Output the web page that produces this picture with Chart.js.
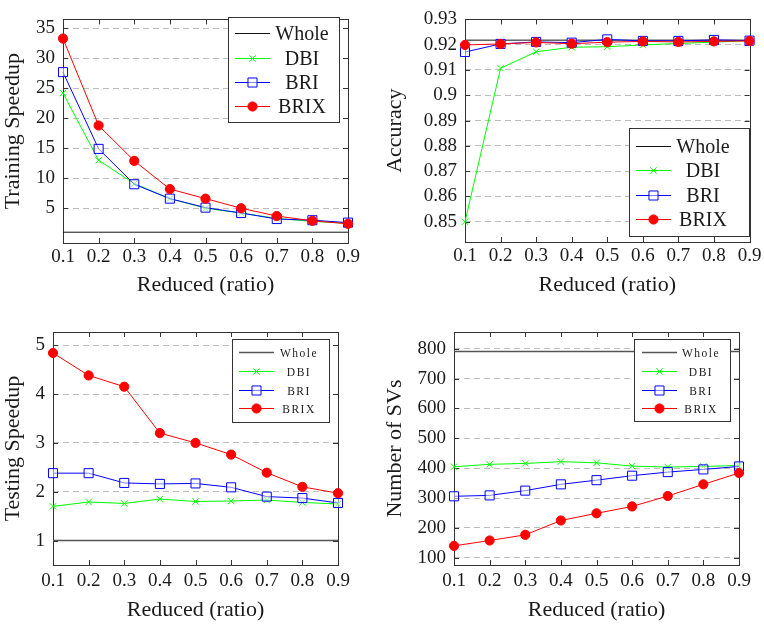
<!DOCTYPE html>
<html>
<head>
<meta charset="utf-8">
<script src="https://cdn.jsdelivr.net/npm/chart.js@4.4.0/dist/chart.umd.min.js"></script>
<style>
body { margin: 0; background: #fff; }
canvas { position: absolute; }
</style>
</head>
<body>
<canvas id="train" width="382" height="300" style="left:0;top:0"></canvas>
<canvas id="acc" width="382" height="300" style="left:382px;top:0"></canvas>
<canvas id="test" width="382" height="314" style="left:0;top:310px"></canvas>
<canvas id="svs" width="382" height="314" style="left:382px;top:310px"></canvas>
<script>
// x categories shared by all four panels
const reduced = ['0.1', '0.2', '0.3', '0.4', '0.5', '0.6', '0.7', '0.8', '0.9'];

// training speedup
const trainWhole = [1, 1, 1, 1, 1, 1, 1, 1, 1];
const trainDBI = [24.2, 13.0, 9.1, 6.6, 5.0, 4.2, 3.3, 2.8, 2.5];
const trainBRI = [27.7, 14.9, 9.0, 6.6, 5.1, 4.2, 3.2, 3.0, 2.6];
const trainBRIX = [33.3, 18.8, 12.9, 8.2, 6.6, 5.0, 3.7, 2.9, 2.4];
const trainTicks = [5, 10, 15, 20, 25, 30, 35];

// accuracy
const accWhole = [0.9218, 0.9218, 0.9218, 0.9218, 0.9218, 0.9218, 0.9218, 0.9218, 0.9218];
const accDBI = [0.85, 0.9107, 0.9172, 0.919, 0.9192, 0.9199, 0.9205, 0.921, 0.9216];
const accBRI = [0.9171, 0.9203, 0.9211, 0.9208, 0.9221, 0.9215, 0.9215, 0.9219, 0.9216];
const accBRIX = [0.9199, 0.9203, 0.9209, 0.9204, 0.921, 0.9213, 0.9211, 0.9213, 0.9215];
const accTicks = [0.85, 0.86, 0.87, 0.88, 0.89, 0.9, 0.91, 0.92, 0.93];

// testing speedup
const testWhole = [1, 1, 1, 1, 1, 1, 1, 1, 1];
const testDBI = [1.70, 1.79, 1.76, 1.85, 1.80, 1.81, 1.83, 1.78, 1.75];
const testBRI = [2.38, 2.38, 2.18, 2.16, 2.17, 2.09, 1.90, 1.87, 1.77];
const testBRIX = [4.84, 4.38, 4.15, 3.20, 3.00, 2.76, 2.39, 2.10, 1.97];
const testTicks = [1, 2, 3, 4, 5];

// number of support vectors
const svWhole = [791, 791, 791, 791, 791, 791, 791, 791, 791];
const svDBI = [405, 413, 416, 422, 418, 407, 404, 406, 409];
const svBRI = [306, 309, 325, 346, 360, 375, 387, 396, 406];
const svBRIX = [140, 158, 177, 225, 249, 272, 307, 346, 384];
const svTicks = [100, 200, 300, 400, 500, 600, 700, 800];

const FONT = 'Liberation Serif';
const TEXT = '#1a1a1a';
const FRAME = '#333';

// frame around the plot plus inward tick marks
const framePlugin = {
    id: 'frame',
    beforeDatasetsDraw(chart) {
        const {ctx, chartArea: a, scales: {x, y}} = chart;
        ctx.save();
        ctx.strokeStyle = FRAME;
        ctx.lineWidth = 1;
        ctx.beginPath();
        x.ticks.forEach((t, i) => {
            const px = Math.round(x.getPixelForValue(i)) + 0.5;
            ctx.moveTo(px, a.bottom); ctx.lineTo(px, a.bottom - 5);
            ctx.moveTo(px, a.top); ctx.lineTo(px, a.top + 5);
        });
        y.ticks.forEach(t => {
            const py = Math.round(y.getPixelForValue(t.value)) + 0.5;
            ctx.moveTo(a.left, py); ctx.lineTo(a.left + 5, py);
            ctx.moveTo(a.right, py); ctx.lineTo(a.right - 5, py);
        });
        ctx.stroke();
        ctx.strokeRect(Math.round(a.left) + 0.5, Math.round(a.top) + 0.5,
            Math.round(a.right - a.left), Math.round(a.bottom - a.top));
        ctx.restore();
    }
};

function drawMarker(ctx, d, cx, cy) {
    const r = d.pointRadius;
    ctx.save();
    ctx.strokeStyle = d.borderColor;
    ctx.fillStyle = d.backgroundColor || 'transparent';
    ctx.lineWidth = 1;
    ctx.beginPath();
    if (d.pointStyle === 'circle') {
        ctx.arc(cx, cy, r, 0, Math.PI * 2);
        ctx.fill();
        ctx.stroke();
    } else if (d.pointStyle === 'rect') {
        const s = r * Math.SQRT1_2;
        ctx.rect(cx - s, cy - s, 2 * s, 2 * s);
        ctx.fill();
        ctx.stroke();
    } else if (d.pointStyle === 'crossRot') {
        const s = r * Math.SQRT1_2;
        ctx.moveTo(cx - s, cy - s); ctx.lineTo(cx + s, cy + s);
        ctx.moveTo(cx - s, cy + s); ctx.lineTo(cx + s, cy - s);
        ctx.stroke();
    }
    ctx.restore();
}

// legend box drawn inside the plot
const boxLegend = {
    id: 'boxLegend',
    afterDatasetsDraw(chart, args, o) {
        const ctx = chart.ctx;
        ctx.save();
        ctx.fillStyle = '#fff';
        ctx.strokeStyle = FRAME;
        ctx.lineWidth = 1;
        ctx.fillRect(o.left, o.top, o.width, o.height);
        ctx.strokeRect(o.left + 0.5, o.top + 0.5, o.width, o.height);
        ctx.font = o.size + 'px "' + FONT + '"';
        ctx.letterSpacing = o.spacing || '0px';
        ctx.textAlign = 'center';
        ctx.textBaseline = 'middle';
        chart.data.datasets.forEach((d, i) => {
            const yy = Math.round(o.top + o.first + i * o.step) + 0.5;
            ctx.strokeStyle = d.borderColor;
            ctx.lineWidth = d.borderWidth;
            ctx.beginPath();
            ctx.moveTo(o.lineX0, yy);
            ctx.lineTo(o.lineX1, yy);
            ctx.stroke();
            if (d.pointRadius > 0) drawMarker(ctx, d, (o.lineX0 + o.lineX1) / 2, yy);
            ctx.fillStyle = TEXT;
            ctx.fillText(d.label, o.textX, yy + 1);
        });
        ctx.restore();
    }
};

function series(whole, dbi, bri, brix, wholeColor, wholeWidth) {
    return [
        {label: 'Whole', data: whole, borderColor: wholeColor, borderWidth: wholeWidth, pointRadius: 0, order: 3},
        {label: 'DBI', data: dbi, borderColor: '#00ff00', borderWidth: 1, pointStyle: 'crossRot',
            pointRadius: 4.5, pointBorderWidth: 1, order: 2},
        {label: 'BRI', data: bri, borderColor: '#0000ff', backgroundColor: 'rgba(255,255,255,0.5)', borderWidth: 1,
            pointStyle: 'rect', pointRadius: 6.4, pointBorderWidth: 1, order: 1},
        {label: 'BRIX', data: brix, borderColor: '#ff0000', backgroundColor: '#ff0000', borderWidth: 1,
            pointStyle: 'circle', pointRadius: 4.6, pointBorderWidth: 1, order: 0},
    ];
}

function makeChart(id, datasets, yTitle, yMin, yMax, yTicks, lay, legend) {
    const tickFont = {family: FONT, size: 19};
    const titleFont = {family: FONT, size: 22};
    return new Chart(document.getElementById(id), {
        type: 'line',
        data: {labels: reduced, datasets: datasets.map(d => Object.assign({clip: false, tension: 0, fill: false}, d))},
        plugins: [framePlugin, boxLegend],
        options: {
            responsive: false,
            animation: false,
            events: [],
            layout: {padding: {top: lay.top, right: lay.right, left: 0, bottom: 0}},
            plugins: {legend: {display: false}, tooltip: {enabled: false}, boxLegend: legend},
            scales: {
                x: {
                    type: 'category',
                    offset: false,
                    grid: {display: false, drawTicks: false},
                    border: {display: false},
                    ticks: {color: TEXT, font: tickFont, padding: lay.xpad, maxRotation: 0, autoSkip: false},
                    title: {display: true, text: 'Reduced (ratio)', color: TEXT, font: titleFont, padding: {top: 0, bottom: lay.tpad}},
                    afterFit: s => { s.height = lay.xh; }
                },
                y: {
                    type: 'linear',
                    min: yMin,
                    max: yMax,
                    afterBuildTicks: s => { s.ticks = yTicks.map(v => ({value: v})); },
                    grid: {color: '#bdbdbd', drawTicks: false},
                    border: {display: false, dash: [6, 4]},
                    ticks: {color: TEXT, font: tickFont, padding: 8, callback: v => String(+v.toFixed(4))},
                    title: {display: true, text: yTitle, color: TEXT, font: titleFont, padding: {top: 0, bottom: 0}},
                    afterFit: s => { s.width = lay.yw; }
                }
            }
        }
    });
}

makeChart('train', series(trainWhole, trainDBI, trainBRI, trainBRIX, '#111', 1),
    'Training Speedup', -0.8, 36.5, trainTicks,
    {top: 9, right: 34, yw: 63, xh: 57, xpad: 2.6, tpad: 1.8},
    {left: 228, top: 17, width: 111, height: 105, first: 16.3, step: 24.3, lineX0: 235, lineX1: 270, textX: 302, size: 20});

makeChart('acc', series(accWhole, accDBI, accBRI, accBRIX, '#111', 1),
    'Accuracy', 0.842, 0.93, accTicks,
    {top: 9, right: 14, yw: 83, xh: 58, xpad: 2.6, tpad: 1.8},
    {left: 247, top: 128, width: 120, height: 108, first: 17.7, step: 24.5, lineX0: 254, lineX1: 289, textX: 321, size: 20});

makeChart('test', series(testWhole, testDBI, testBRI, testBRIX, '#555', 1.5),
    'Testing Speedup', 0.5, 5.27, testTicks,
    {top: 22, right: 44, yw: 53, xh: 59, xpad: 4.6, tpad: 0.8},
    {left: 232, top: 29, width: 97, height: 83, first: 13.3, step: 18.7, lineX0: 239, lineX1: 274, textX: 299, size: 11.5, spacing: '1.5px'});

makeChart('svs', series(svWhole, svDBI, svBRI, svBRIX, '#555', 1.5),
    'Number of SVs', 76, 856, svTicks,
    {top: 22, right: 25, yw: 72, xh: 59, xpad: 4.6, tpad: 0.8},
    {left: 252, top: 29, width: 96, height: 82, first: 13.3, step: 18.7, lineX0: 260, lineX1: 295, textX: 319, size: 11.5, spacing: '1.5px'});
</script>
</body>
</html>
